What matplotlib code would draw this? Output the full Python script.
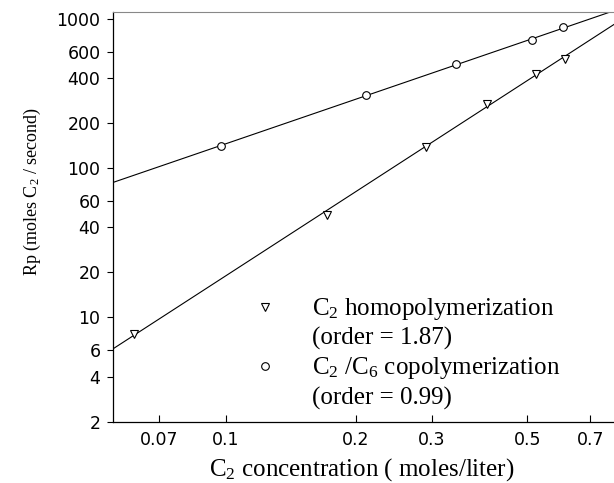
import numpy as np
import matplotlib.pyplot as plt
from matplotlib.lines import Line2D

# ---------------------------------------
# Data
# ---------------------------------------

# C2 homopolymerization
homo_x = [0.0613, 0.172, 0.291, 0.404, 0.523, 0.612]
homo_y = [7.7, 48.4, 139, 268, 427, 537]

# C2/C6 copolymerization
copo_x = [0.0972, 0.211, 0.341, 0.512, 0.605]
copo_y = [141, 308, 495, 720, 875]

# fitted power laws: Rp = k * (x / 0.1) ** order
homo_order, homo_k = 1.87, 19.0
copo_order, copo_k = 0.99, 145.6

xticks = [0.07, 0.1, 0.2, 0.3, 0.5, 0.7]
xtick_labels = ["0.07", "0.1", "0.2", "0.3", "0.5", "0.7"]
yticks = [2, 4, 6, 10, 20, 40, 60, 100, 200, 400, 600, 1000]
ytick_labels = ["2", "4", "6", "10", "20", "40", "60", "100", "200", "400", "600", "1000"]

xlim = (0.0547, 0.795)
ylim = (2, 1110)

plt.rcParams['mathtext.default'] = 'regular'
serif = 'Liberation Serif'

fig = plt.figure(figsize=(6.14, 4.83), dpi=100)
ax = fig.add_axes([0.184, 0.127, 0.816, 0.848])
ax.set_xscale('log')
ax.set_yscale('log')

# fit lines across the whole axis
xx = np.geomspace(xlim[0], xlim[1], 200)
ax.plot(xx, homo_k * (xx / 0.1) ** homo_order, color='black', lw=0.8)
ax.plot(xx, copo_k * (xx / 0.1) ** copo_order, color='black', lw=0.8)

# data points
ax.plot(homo_x, homo_y, 'v', ms=5.5, mfc='white', mec='black', mew=0.8)
ax.plot(copo_x, copo_y, 'o', ms=5.5, mfc='white', mec='black', mew=0.8)

ax.set_xlim(*xlim)
ax.set_ylim(*ylim)

ax.set_xticks(xticks)
ax.set_xticklabels(xtick_labels)
ax.set_yticks(yticks)
ax.set_yticklabels(ytick_labels)
ax.minorticks_off()
ax.tick_params(axis='x', direction='in', length=5, width=0.8, pad=7, labelsize=12.5)
ax.tick_params(axis='y', direction='out', length=4, width=0.8, pad=5, labelsize=12.5)

ax.spines['right'].set_visible(False)
ax.spines['top'].set_color('#888888')
ax.spines['left'].set_linewidth(0.9)
ax.spines['bottom'].set_linewidth(0.9)

ax.set_xlabel("C$_2$ concentration ( moles/liter)", family=serif, fontsize=18, va='center')
ax.xaxis.set_label_coords(0.497, -0.118)
ax.set_ylabel("Rp (moles C$_2$ / second)", family=serif, fontsize=13, va='center')
ax.yaxis.set_label_coords(-0.16, 0.561)

# legend: marker aligned with first line of each label
blank = Line2D([], [], linestyle='none', marker='none')
handles = [
    Line2D([], [], linestyle='none', marker='v', ms=5.5, mfc='white', mec='black', mew=0.8),
    blank,
    Line2D([], [], linestyle='none', marker='o', ms=5.5, mfc='white', mec='black', mew=0.8),
    blank,
]
labels = [
    "C$_2$ homopolymerization",
    "(order = 1.87)",
    "C$_2$ /C$_6$ copolymerization",
    "(order = 0.99)",
]
ax.legend(handles, labels, loc='upper left', bbox_to_anchor=(0.278, 0.306),
          frameon=False, prop={'family': serif, 'size': 18}, numpoints=1,
          handlelength=1.0, handletextpad=1.4, borderpad=0, borderaxespad=0,
          labelspacing=0.2)

fig.savefig("out.png", dpi=100)
